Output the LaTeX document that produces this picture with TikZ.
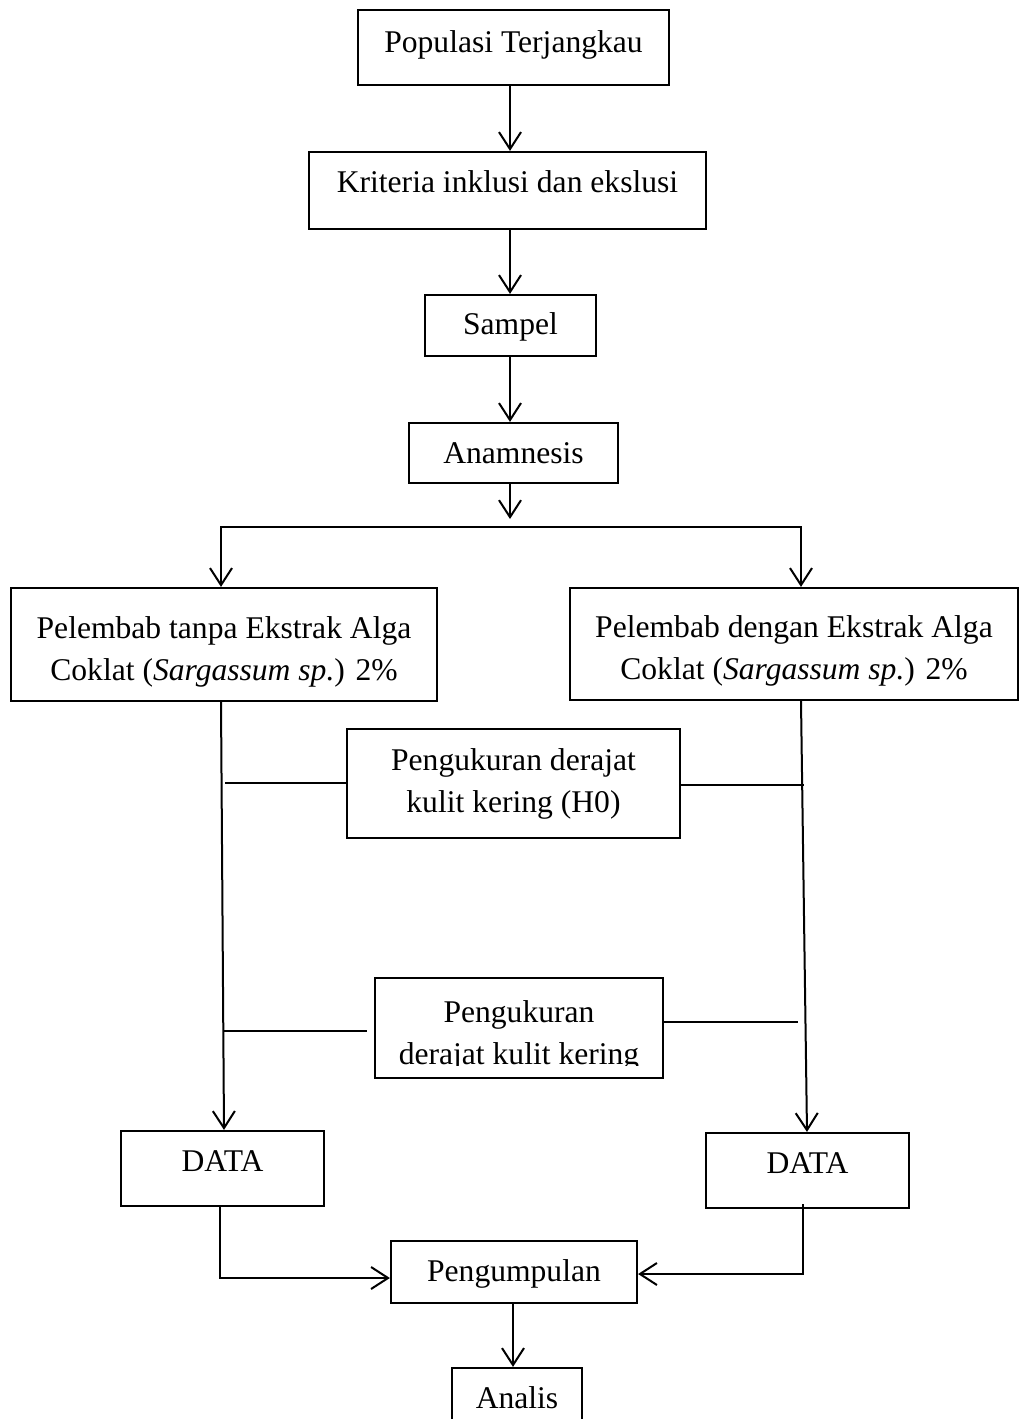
\documentclass[tikz,border=0pt]{standalone}
\usepackage{fontspec}
\setmainfont{Liberation Serif}
\usetikzlibrary{arrows.meta}
\begin{document}
\begin{tikzpicture}[x=1pt,y=-1pt,
  box/.style={draw, line width=2.2pt, inner sep=0pt, font=\fontsize{31.6}{42}\selectfont},
  one/.style={anchor=base},
  txt/.style={inner sep=0pt, font=\fontsize{31.6}{42}\selectfont},
  ln/.style={line width=2pt},
  tip/.tip={Straight Barb[length=17pt,width=22pt]},
  arr/.style={line width=2pt, -tip}]
\clip (0,0) rectangle (1019,1419);
\fill[white] (0,0) rectangle (1019,1419);

% main column
\node[box, one, minimum width=311pt, text height=42pt, text depth=33pt] (pop) at (513.5,52) {Populasi Terjangkau};
\node[box, one, minimum width=397pt, text height=40pt, text depth=37pt] (kri) at (507.5,192) {Kriteria inklusi dan ekslusi};
\node[box, one, minimum width=171pt, text height=39pt, text depth=22pt] (sam) at (510.5,334) {Sampel};
\node[box, one, minimum width=209pt, text height=40pt, text depth=20pt] (ana) at (513.5,463) {Anamnesis};

% two groups
\node[box, align=center, minimum width=426pt, minimum height=113pt] (lb) at (224,644.5)
  {\rule{0pt}{36pt}Pelembab tanpa Ekstrak Alga\\Coklat (\textit{Sargassum sp.}) 2\%};
\node[box, align=center, minimum width=448pt, minimum height=112pt] (rb) at (794,644)
  {\rule{0pt}{36pt}Pelembab dengan Ekstrak Alga\\Coklat (\textit{Sargassum sp.}) 2\%};

% measurements
\node[box, align=center, minimum width=333pt, minimum height=109pt] (m1) at (513.5,783.5)
  {Pengukuran derajat\\kulit kering (H0)};
\node[box, minimum width=288pt, minimum height=100pt] (m2) at (519,1028) {};
\begin{scope}
  \clip (378,981) rectangle (660,1065);
  \node[txt, align=center] (m2t) at (519,1032) {\rule{0pt}{29.6pt}Pengukuran\\derajat kulit kering};
\end{scope}

% data
\node[box, one, minimum width=203pt, text height=40pt, text depth=35pt] (dl) at (222.5,1171) {DATA};
\node[box, one, minimum width=203pt, text height=40pt, text depth=35pt] (dr) at (807.5,1173) {DATA};
\node[box, one, minimum width=246pt, text height=40pt, text depth=22pt] (pg) at (514,1281) {Pengumpulan};
\node[box, one, minimum width=130pt, text height=40pt, text depth=32pt] (an) at (517,1408) {Analis};

% top arrows
\coordinate (ax) at (510,0);
\draw[arr] (pop.south -| ax) -- (kri.north -| ax);
\draw[arr] (kri.south -| ax) -- (sam.north -| ax);
\draw[arr] (sam.south -| ax) -- (ana.north -| ax);
\coordinate (split) at (510,519);
\draw[arr] (ana.south -| ax) -- (split);
\coordinate (hl) at (221,527);
\coordinate (hr) at (801,527);
\draw[ln, tip-tip] (lb.north -| hl) -- (hl) -- (hr) -- (rb.north -| hr);

% long verticals
\coordinate (lv1) at (221,0);
\coordinate (lv2) at (224,0);
\coordinate (rv1) at (801,0);
\coordinate (rv2) at (807,0);
\draw[arr] (lb.south -| lv1) -- (dl.north -| lv2);
\draw[arr] (rb.south -| rv1) -- (dr.north -| rv2);

% stubs to measurement boxes
\coordinate (s1) at (225,783);
\draw[ln] (s1) -- (s1 -| m1.west);
\coordinate (s2) at (804,785);
\draw[ln] (m1.east |- s2) -- (s2);
\coordinate (s3a) at (223,1031);
\coordinate (s3b) at (367,1031);
\draw[ln] (s3a) -- (s3b);
\coordinate (s4) at (798,1022);
\draw[ln] (m2.east |- s4) -- (s4);

% bottom
\coordinate (c1) at (220,1278);
\draw[arr] (dl.south -| c1) -- (c1) -- (c1 -| pg.west);
\coordinate (c2) at (803,1274);
\coordinate (c2t) at (803,1204);
\draw[arr] (c2t) -- (c2) -- (c2 -| pg.east);
\coordinate (ax2) at (513,0);
\draw[arr] (pg.south -| ax2) -- (an.north -| ax2);
\end{tikzpicture}
\end{document}
